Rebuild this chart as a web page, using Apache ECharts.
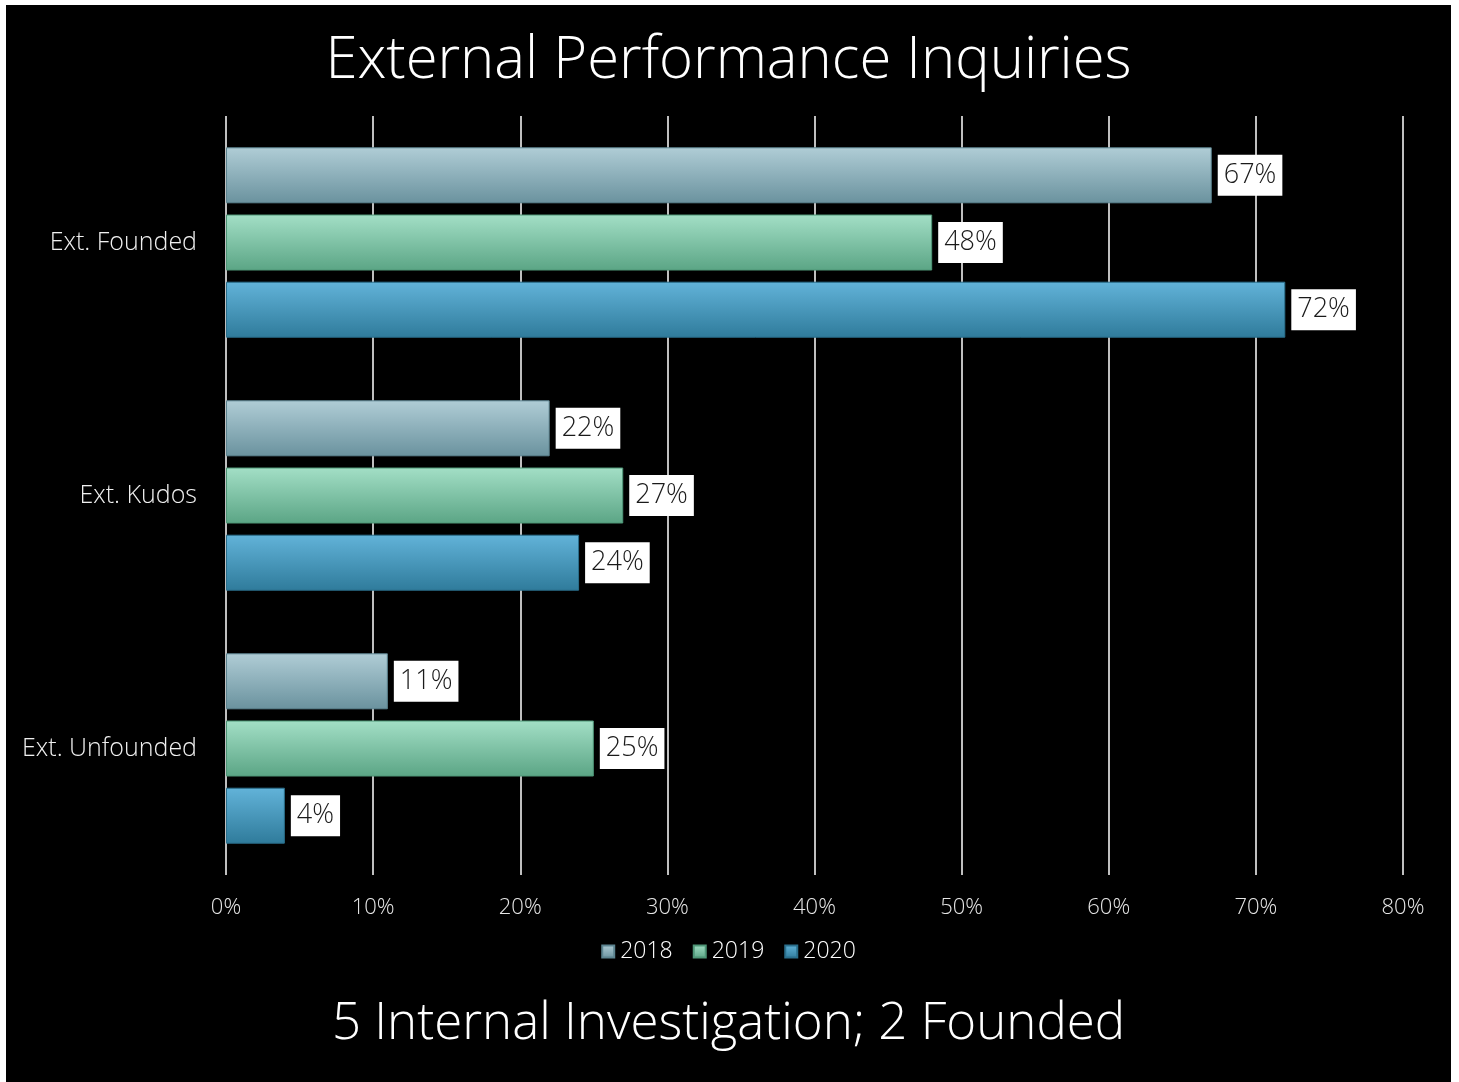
<!DOCTYPE html>
<html>
<head>
<meta charset="utf-8">
<script src="https://cdn.jsdelivr.net/npm/echarts@6/dist/echarts.min.js"></script>
<style>
  html, body { margin: 0; padding: 0; background: #ffffff; }
  #wrap { position: relative; width: 1459px; height: 1082px; background: #ffffff; }
  #chart { position: absolute; left: 6px; top: 5px; width: 1445px; height: 1077px; background: #000000; }
</style>
</head>
<body>
<div id="wrap"><div id="chart"></div></div>
<script>
const categories = ['Ext. Founded', 'Ext. Kudos', 'Ext. Unfounded'];
const seriesNames = ['2018', '2019', '2020'];
const values2018 = [67, 22, 11];
const values2019 = [48, 27, 25];
const values2020 = [72, 24, 4];
const xTicks = [0, 10, 20, 30, 40, 50, 60, 70, 80];
const titleText = 'External Performance Inquiries';
const subtitleText = '5 Internal Investigation; 2 Founded';

const FONT = '"Open Sans", Lato, sans-serif';

function grad(top, bottom) {
  return new echarts.graphic.LinearGradient(0, 0, 0, 1, [
    { offset: 0, color: top },
    { offset: 1, color: bottom }
  ]);
}
const palettes = [
  { top: '#b0cdd6', bottom: '#6a929e', border: '#5c8490' },
  { top: '#a3dfc6', bottom: '#5ba585', border: '#4e9677' },
  { top: '#62b3d9', bottom: '#2f7b9b', border: '#2a6f8c' }
];
const allValues = [values2018, values2019, values2020];

const chart = echarts.init(document.getElementById('chart'), null, { renderer: 'canvas' });

const series = seriesNames.map((name, i) => ({
  name: name,
  type: 'bar',
  data: allValues[i],
  barWidth: 56,
  barGap: '20%',
  itemStyle: {
    color: grad(palettes[i].top, palettes[i].bottom),
    borderColor: palettes[i].border,
    borderWidth: 1
  },
  label: {
    show: true,
    position: 'right',
    distance: 6,
    formatter: '{c}%',
    backgroundColor: '#ffffff',
    color: '#1a1a1a',
    fontFamily: FONT,
    fontWeight: 300,
    fontSize: 27,
    padding: [8, 6, 6, 6]
  }
}));

chart.setOption({
  animation: false,
  backgroundColor: '#000000',
  textStyle: { fontFamily: FONT },
  title: [
    {
      text: titleText,
      left: 'center',
      top: 22,
      textStyle: { color: '#ffffff', fontSize: 58, fontWeight: 300, fontFamily: FONT }
    },
    {
      text: subtitleText,
      left: 'center',
      top: 989,
      textStyle: { color: '#ffffff', fontSize: 51, fontWeight: 300, fontFamily: FONT }
    }
  ],
  legend: {
    data: seriesNames,
    top: 930,
    left: 'center',
    icon: 'rect',
    itemWidth: 12,
    itemHeight: 12,
    itemGap: 20,
    textStyle: { color: '#ffffff', fontSize: 23, fontWeight: 300, fontFamily: FONT, padding: [0, 0, 0, 1] }
  },
  grid: {
    left: 220,
    right: 48,
    top: 111,
    bottom: 207,
    containLabel: false
  },
  xAxis: {
    type: 'value',
    min: xTicks[0],
    max: xTicks[xTicks.length - 1],
    interval: xTicks[1] - xTicks[0],
    axisLine: { show: false },
    axisTick: { show: false },
    splitLine: { show: true, lineStyle: { color: '#ffffff', width: 1.5 } },
    axisLabel: {
      color: '#e6e6e6',
      fontSize: 22,
      fontWeight: 300,
      margin: 22,
      fontFamily: FONT,
      formatter: '{value}%'
    }
  },
  yAxis: {
    type: 'category',
    inverse: true,
    data: categories,
    axisLine: { show: false },
    axisTick: { show: false },
    splitLine: { show: false },
    axisLabel: {
      color: '#f0f0f0',
      fontSize: 25,
      fontWeight: 300,
      margin: 29,
      fontFamily: FONT
    }
  },
  series: series
});
</script>
</body>
</html>
